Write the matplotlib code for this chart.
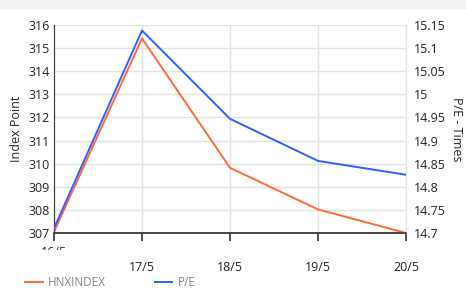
import matplotlib.pyplot as plt
from matplotlib.patches import Rectangle
from matplotlib.transforms import Bbox

dates = ["16/5", "17/5", "18/5", "19/5", "20/5"]
hnx = [307.05, 315.42, 309.82, 308.02, 307.0]
pe = [14.71, 15.138, 14.947, 14.856, 14.826]
left_ticks = [307, 308, 309, 310, 311, 312, 313, 314, 315, 316]
right_ticks = [14.7, 14.75, 14.8, 14.85, 14.9, 14.95, 15.0, 15.05, 15.1, 15.15]
right_labels = ["14.7", "14.75", "14.8", "14.85", "14.9", "14.95", "15", "15.05", "15.1", "15.15"]

plt.rcParams['font.family'] = ['Open Sans', 'DejaVu Sans']
orange = '#ff6a3a'
blue = '#3060ff'
grid = '#e3e3e3'
txt = '#262626'

fig = plt.figure(figsize=(4.66, 2.93), dpi=100)
fig.patches.append(Rectangle((0, 0.972), 1, 0.028, transform=fig.transFigure,
                             color='#f2f2f2', zorder=0))
ax = fig.add_axes([54 / 466, 60 / 293, 352 / 466, 208 / 293])
ax2 = ax.twinx()

x = list(range(len(dates)))
ax.plot(x, hnx, color=orange, lw=1.4, zorder=3)
ax2.plot(x, pe, color=blue, lw=1.4, zorder=3)

ax.set_xlim(0, 4)
ax.set_ylim(307, 316)
ax2.set_ylim(14.7, 15.15)
ax.set_yticks(left_ticks)
ax.set_yticklabels([str(v) for v in left_ticks])
ax2.set_yticks(right_ticks)
ax2.set_yticklabels(right_labels)
ax.set_xticks(x)
# first date label is cut off in the source, drawn separately below
ax.set_xticklabels([""] + dates[1:])

ax.grid(True, color=grid, lw=1)
ax.set_axisbelow(True)
for a in (ax, ax2):
    a.spines['top'].set_visible(False)
    a.spines['right'].set_color(grid)
    a.spines['left'].set_color('#444444')
    a.spines['bottom'].set_color('#444444')
    a.spines['bottom'].set_linewidth(1.2)
ax.tick_params(axis='y', length=0, labelsize=9, colors=txt, pad=3)
ax2.tick_params(axis='y', length=0, labelsize=9, colors=txt, pad=6)
ax.tick_params(axis='x', length=6, width=1.2, labelsize=9, colors=txt,
               color='#333333', pad=14)
ax2.tick_params(axis='x', length=6, width=1.2, color='#333333')

ax.set_ylabel("Index Point", fontsize=9, color=txt, labelpad=4)
ax2.set_ylabel("P/E - Times", fontsize=9, color=txt, rotation=270, labelpad=12)

t = fig.text(54 / 466, 1 - 246 / 293, dates[0], fontsize=9, color=txt,
             ha='center', va='top')
t.set_clip_box(Bbox([[0, 1 - 250 / 293], [1, 1 - 245 / 293]]).transformed(fig.transFigure))
t.set_clip_on(True)

# legend
fig.add_artist(plt.Line2D([25 / 466, 43 / 466], [11 / 293, 11 / 293], color=orange,
                          lw=1.4, transform=fig.transFigure))
fig.text(48 / 466, 11 / 293, "HNXINDEX", fontsize=8.5, color='#888888', va='center')
fig.add_artist(plt.Line2D([155 / 466, 172 / 466], [11 / 293, 11 / 293], color=blue,
                          lw=1.4, transform=fig.transFigure))
fig.text(178 / 466, 11 / 293, "P/E", fontsize=8.5, color='#888888', va='center')

fig.savefig("out.png", dpi=100)
